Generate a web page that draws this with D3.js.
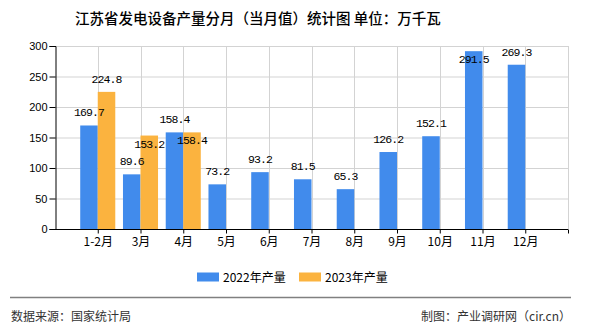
<!DOCTYPE html>
<html><head><meta charset="utf-8">
<script src="https://cdn.jsdelivr.net/npm/d3@7"></script>
<style>
html,body{margin:0;padding:0;background:#fff;}
svg{display:block;}
</style></head>
<body>
<svg id="c" width="590" height="330"></svg>
<script>
const categories = ["1-2月","3月","4月","5月","6月","7月","8月","9月","10月","11月","12月"];
const values2022 = [169.7, 89.6, 158.4, 73.2, 93.2, 81.5, 65.3, 126.2, 152.1, 291.5, 269.3];
const values2023 = [224.8, 153.2, 158.4, null, null, null, null, null, null, null, null];
const seriesNames = ["2022年产量", "2023年产量"];
const yTicks = [0, 50, 100, 150, 200, 250, 300];
const titleText = "江苏省发电设备产量分月（当月值）统计图 单位：万千瓦";
const sourceText = "数据来源：国家统计局";
const creditText = "制图：产业调研网（cir.cn）";

const colors = ["#418bec", "#fbb33f"];
const svg = d3.select("#c");
const L = 55, R = 568, T = 46, B = 229;
const cjk = "'Noto Sans CJK SC', sans-serif";

const x = d3.scaleLinear().domain([0, categories.length + 1]).range([L, R]);
const y = d3.scaleLinear().domain([0, 300]).range([B, T]);
const step = x(1) - x(0);
const bw = step * 0.41;

// title
svg.append("text").attr("x", 75).attr("y", 23.5)
  .attr("font-family", cjk).attr("font-size", 14.5).attr("font-weight", 500).attr("fill", "#000")
  .text(titleText);

// grid
const g = svg.append("g");
g.selectAll("line.h").data(yTicks.filter(d => d > 0)).enter().append("line")
  .attr("x1", L).attr("x2", R).attr("y1", d => y(d) + 0.5).attr("y2", d => y(d) + 0.5)
  .attr("stroke", "#d3d3d3").attr("stroke-width", 1);
g.selectAll("line.v").data(d3.range(1, categories.length + 2)).enter().append("line")
  .attr("x1", d => Math.round(x(d)) + 0.5).attr("x2", d => Math.round(x(d)) + 0.5)
  .attr("y1", T).attr("y2", B)
  .attr("stroke", "#d3d3d3").attr("stroke-width", 1);

// bars
const seriesList = [values2022, values2023];
seriesList.forEach((vals, s) => {
  svg.append("g").selectAll("rect").data(vals.map((v, i) => ({v, i})).filter(d => d.v != null))
    .enter().append("rect")
    .attr("x", d => x(d.i + 1) - (s === 0 ? bw : 0))
    .attr("width", bw)
    .attr("y", d => y(d.v))
    .attr("height", d => B - y(d.v))
    .attr("fill", colors[s]);
});

// value labels
const inside = {0: [9], 1: [1, 2]};
seriesList.forEach((vals, s) => {
  svg.append("g").selectAll("text").data(vals.map((v, i) => ({v, i})).filter(d => d.v != null))
    .enter().append("text")
    .attr("x", d => x(d.i + 1) + (s === 0 ? -bw / 2 : bw / 2))
    .attr("y", d => inside[s].includes(d.i) ? y(d.v) + 12 : y(d.v) - 9)
    .attr("text-anchor", "middle")
    .attr("font-family", "'Liberation Mono', monospace").attr("font-size", 11.5)
    .attr("letter-spacing", "-0.9px")
    .attr("fill", "#000")
    .text(d => d.v.toFixed(1));
});

// axes
const yAxis = svg.append("g").attr("transform", `translate(${L + 0.5},0)`)
  .call(d3.axisLeft(y).tickValues(yTicks).tickSize(6).tickPadding(2));
yAxis.selectAll("text").attr("font-family", "'Liberation Sans', Arial, sans-serif").attr("font-size", 11).attr("fill", "#000");
yAxis.selectAll("line,path").attr("stroke", "#000");

const xAxis = svg.append("g").attr("transform", `translate(0,${B + 0.5})`)
  .call(d3.axisBottom(x).tickValues(d3.range(0, categories.length + 2)).tickSize(4).tickPadding(4)
    .tickFormat(i => (i >= 1 && i <= categories.length) ? categories[i - 1] : ""));
xAxis.selectAll("text").attr("font-family", cjk).attr("font-size", 12).attr("fill", "#000");
xAxis.selectAll("line,path").attr("stroke", "#000");
xAxis.select("path").attr("d", `M${L},0H${R}`);
xAxis.selectAll(".tick").filter(d => d === 0).remove();

// legend
const legX = [197, 299];
seriesNames.forEach((n, s) => {
  svg.append("rect").attr("x", legX[s]).attr("y", 272.5).attr("width", 22).attr("height", 9).attr("fill", colors[s]);
  svg.append("text").attr("x", legX[s] + 26).attr("y", 281.5)
    .attr("font-family", cjk).attr("font-size", 12).attr("fill", "#000").text(n);
});

// footer
svg.append("line").attr("x1", 10).attr("x2", 571).attr("y1", 297.5).attr("y2", 297.5)
  .attr("stroke", "#808080").attr("stroke-width", 1.5);
svg.append("text").attr("x", 11).attr("y", 320.5)
  .attr("font-family", cjk).attr("font-size", 12).attr("fill", "#333").text(sourceText);
svg.append("text").attr("x", 571).attr("y", 320.5).attr("text-anchor", "end")
  .attr("font-family", cjk).attr("font-size", 12).attr("fill", "#333").text(creditText);
</script>
</body></html>
